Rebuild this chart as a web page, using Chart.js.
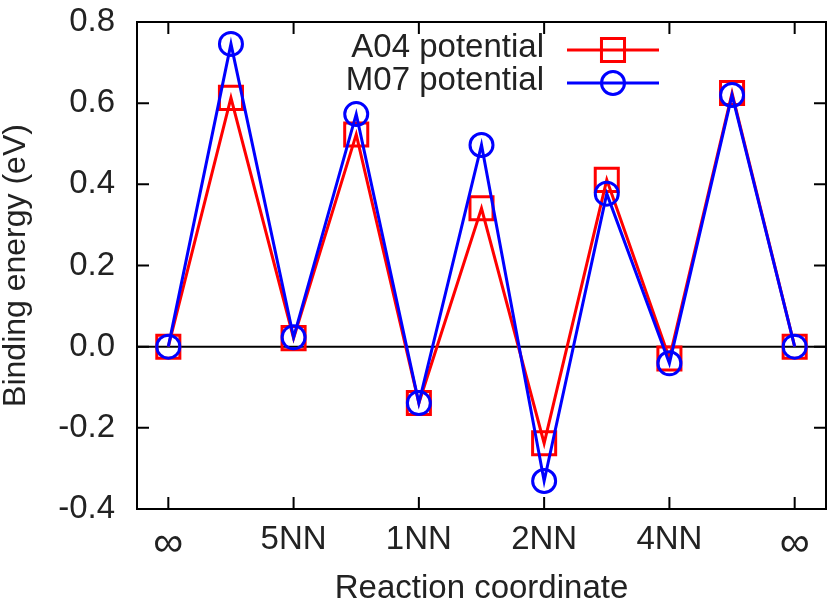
<!DOCTYPE html>
<html>
<head>
<meta charset="utf-8">
<script src="https://cdn.jsdelivr.net/npm/chart.js@4"></script>
<style>
  html, body { margin: 0; padding: 0; background: #fff; }
</style>
</head>
<body>
<canvas id="myChart" width="830" height="606"></canvas>

<script>
    // reaction coordinate positions and binding energies (eV)
    const positions = [0, 1, 2, 3, 4, 5, 6, 7, 8, 9, 10];
    const a04Values = [0, 0.613, 0.021, 0.523, -0.139, 0.341, -0.238, 0.411, -0.029, 0.625, 0];
    const m07Values = [0, 0.746, 0.023, 0.573, -0.139, 0.497, -0.331, 0.377, -0.041, 0.620, 0];

    const xTickValues = [0, 2, 4, 6, 8, 10];
    const xTickLabels = ['∞', '5NN', '1NN', '2NN', '4NN', '∞'];
    const yTickValues = [-0.4, -0.2, 0, 0.2, 0.4, 0.6, 0.8];

    const FONT = 'Liberation Sans, Arial, Helvetica, sans-serif';
    const TEXT = '#222';
    const FS = 33;

    const toPoints = vals => vals.map((v, i) => ({ x: positions[i], y: v }));

    // gnuplot style frame: border, inward ticks on all sides, zero line, legend
    const gnuplotFrame = {
        id: 'gnuplotFrame',
        beforeDatasetsDraw(chart) {
            const { ctx, chartArea: a, scales: { y } } = chart;
            ctx.save();
            ctx.strokeStyle = '#000';
            ctx.lineWidth = 2;
            const y0 = y.getPixelForValue(0);
            ctx.beginPath();
            ctx.moveTo(a.left, y0);
            ctx.lineTo(a.right, y0);
            ctx.stroke();
            ctx.restore();
        },
        afterDraw(chart) {
            const { ctx, chartArea: a, scales: { x, y } } = chart;
            const len = 12;
            ctx.save();
            ctx.strokeStyle = '#000';
            ctx.lineWidth = 2;
            ctx.strokeRect(a.left, a.top, a.right - a.left, a.bottom - a.top);
            ctx.beginPath();
            xTickValues.forEach(v => {
                const px = x.getPixelForValue(v);
                ctx.moveTo(px, a.bottom); ctx.lineTo(px, a.bottom - len);
                ctx.moveTo(px, a.top); ctx.lineTo(px, a.top + len);
            });
            yTickValues.forEach(v => {
                const py = y.getPixelForValue(v);
                ctx.moveTo(a.left, py); ctx.lineTo(a.left + len, py);
                ctx.moveTo(a.right, py); ctx.lineTo(a.right - len, py);
            });
            ctx.stroke();

            // legend: text right aligned, sample line with marker on the right
            const rows = [
                { ds: chart.data.datasets[0], y: 50 },
                { ds: chart.data.datasets[1], y: 83 }
            ];
            ctx.font = FS + 'px ' + FONT;
            ctx.textAlign = 'right';
            ctx.textBaseline = 'middle';
            rows.forEach(r => {
                ctx.fillStyle = TEXT;
                ctx.fillText(r.ds.label, 544, r.y - 2);
                ctx.strokeStyle = r.ds.borderColor;
                ctx.lineWidth = r.ds.borderWidth;
                ctx.beginPath();
                ctx.moveTo(567, r.y); ctx.lineTo(659, r.y);
                ctx.stroke();
                const cx = 613;
                ctx.beginPath();
                if (r.ds.pointStyle === 'rect') {
                    const s = r.ds.pointRadius * Math.SQRT1_2;
                    ctx.rect(cx - s, r.y - s, 2 * s, 2 * s);
                } else {
                    ctx.arc(cx, r.y, r.ds.pointRadius, 0, Math.PI * 2);
                }
                ctx.stroke();
            });
            ctx.restore();
        }
    };

    const ctx = document.getElementById('myChart').getContext('2d');
    const myChart = new Chart(ctx, {
        type: 'line',
        data: {
            datasets: [
                {
                    label: 'A04 potential',
                    data: toPoints(a04Values),
                    borderColor: '#ff0000',
                    backgroundColor: 'rgba(0,0,0,0)',
                    borderWidth: 3,
                    pointStyle: 'rect',
                    pointRadius: 16.3,
                    pointBorderWidth: 3,
                    pointBorderColor: '#ff0000',
                    pointBackgroundColor: 'rgba(0,0,0,0)',
                    tension: 0,
                    order: 2,
                    clip: false
                },
                {
                    label: 'M07 potential',
                    data: toPoints(m07Values),
                    borderColor: '#0000ff',
                    backgroundColor: 'rgba(0,0,0,0)',
                    borderWidth: 3,
                    pointStyle: 'circle',
                    pointRadius: 11.5,
                    pointBorderWidth: 3,
                    pointBorderColor: '#0000ff',
                    pointBackgroundColor: 'rgba(0,0,0,0)',
                    tension: 0,
                    order: 1,
                    clip: false
                }
            ]
        },
        options: {
            responsive: false,
            animation: false,
            devicePixelRatio: 1,
            events: [],
            layout: { padding: { top: 22, right: 4, left: 0, bottom: 0 } },
            plugins: {
                legend: { display: false },
                tooltip: { enabled: false }
            },
            scales: {
                x: {
                    type: 'linear',
                    min: -0.5,
                    max: 10.5,
                    border: { display: false },
                    grid: { display: false, drawTicks: false },
                    afterBuildTicks: s => { s.ticks = xTickValues.map(v => ({ value: v })); },
                    afterFit: s => {
                        s.height = 97;
                        s.paddingLeft = 0;
                        s.paddingRight = 0;
                    },
                    ticks: {
                        padding: 14,
                        maxRotation: 0,
                        autoSkip: false,
                        color: TEXT,
                        font: c => ({
                            family: FONT,
                            size: c.tick && c.tick.label === '∞' ? 42 : FS,
                            lineHeight: 1
                        }),
                        callback: v => xTickLabels[xTickValues.indexOf(v)]
                    },
                    title: {
                        display: true,
                        text: 'Reaction coordinate',
                        color: TEXT,
                        font: { family: FONT, size: FS, lineHeight: 1 },
                        padding: { top: 0, bottom: 1 }
                    }
                },
                y: {
                    min: -0.4,
                    max: 0.8,
                    border: { display: false },
                    grid: { display: false, drawTicks: false },
                    afterBuildTicks: s => { s.ticks = yTickValues.map(v => ({ value: v })); },
                    afterFit: s => {
                        s.width = 137;
                        s.paddingTop = 0;
                        s.paddingBottom = 0;
                    },
                    ticks: {
                        padding: 22,
                        autoSkip: false,
                        color: TEXT,
                        font: { family: FONT, size: FS, lineHeight: 1 },
                        callback: v => v.toFixed(1)
                    },
                    title: {
                        display: true,
                        text: 'Binding energy (eV)',
                        color: TEXT,
                        font: { family: FONT, size: 32, lineHeight: 1 },
                        padding: { top: 0, bottom: 0 }
                    }
                }
            }
        },
        plugins: [
            gnuplotFrame,
            {
                // Chart.js keeps room for the last x label; pin the plot's right edge
                id: 'pinRight',
                afterLayout(chart) {
                    const x = chart.scales.x;
                    const right = 826;
                    chart.chartArea.right = right;
                    x.right = right;
                    x.width = right - x.left;
                    x.configure();
                }
            }
        ]
    });
</script>
</body>
</html>
